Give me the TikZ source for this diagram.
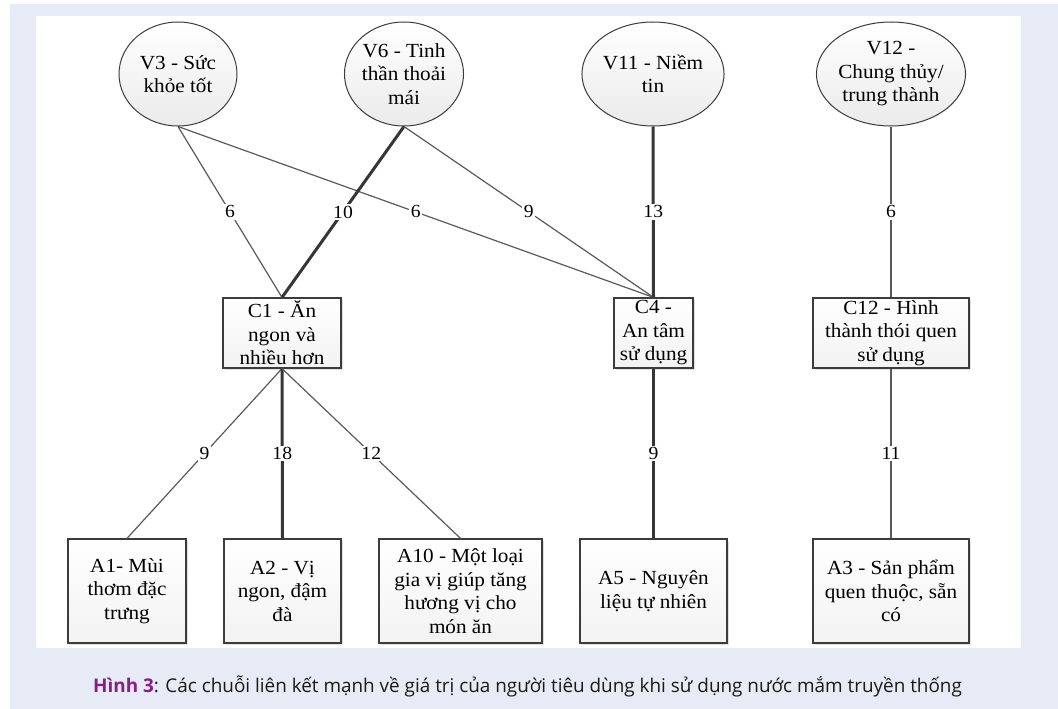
\documentclass[tikz,border=0pt]{standalone}
\usepackage{fontspec}
\setmainfont{Liberation Serif}[FakeStretch=1.06]
\newfontfamily\capfont{Open Sans}
\usetikzlibrary{shapes.geometric,shadows}
\definecolor{bgblue}{HTML}{E7EBF6}
\definecolor{bordc}{HTML}{3C3C3C}
\definecolor{thinc}{HTML}{5A5A5A}
\definecolor{thickc}{HTML}{363636}
\definecolor{cappurple}{HTML}{8A1C8C}
\definecolor{captext}{HTML}{1A1A1A}
\newcommand{\nodefont}{\fontsize{20}{23.5}\selectfont}
\newcommand{\lblfont}{\fontsize{18.5}{20}\selectfont}
\tikzset{
  vnode/.style={ellipse, draw=bordc, line width=1pt, top color=white, bottom color=gray!16,
    minimum width=118pt, minimum height=104pt, inner sep=0pt, align=center, font=\nodefont},
  boxnode/.style={rectangle, draw=bordc, line width=1.2pt, top color=white, bottom color=gray!10,
    drop shadow={shadow xshift=1.5pt, shadow yshift=-1.5pt, opacity=0.25},
    inner sep=0pt, align=center, font=\nodefont},
  thinedge/.style={draw=thinc, line width=1.2pt},
  thickedge/.style={draw=thickc, line width=3pt},
  lbl/.style={fill=white, inner sep=1.5pt, font=\lblfont, text=black}
}
\begin{document}
\begin{tikzpicture}[x=1pt, y=-1pt]
\useasboundingbox (0,0) rectangle (1058,709);
\fill[white] (0,0) rectangle (1058,709);
\fill[bgblue] (10,4) rectangle (1058,709);
\fill[white] (36,16) rectangle (1021,648);

% value nodes
\node[vnode] (V3) at (178,74) {V3 - Sức\\khỏe tốt};
\node[vnode] (V6) at (404,74) {V6 - Tinh\\thần thoải\\mái};
\node[vnode] (V11) at (653,74) {V11 - Niềm\\tin};
\node[vnode] (V12) at (891,74) {V12 -\\Chung thủy/\\trung thành};

% consequence nodes
\node[boxnode, minimum width=118pt, minimum height=70pt] (C1) at (282,333) {C1 - Ăn\\ngon và\\nhiều hơn};
\node[boxnode, minimum width=79pt, minimum height=70pt] (C4) at (653.5,333) {C4 -\\An tâm\\sử dụng};
\node[boxnode, minimum width=156pt, minimum height=70pt] (C12) at (891,333) {C12 - Hình\\thành thói quen\\sử dụng};

% attribute nodes
\node[boxnode, minimum width=118pt, minimum height=104pt] (A1) at (127,591) {A1- Mùi\\thơm đặc\\trưng};
\node[boxnode, minimum width=117pt, minimum height=104pt] (A2) at (282.5,591) {A2 - Vị\\ngon, đậm\\đà};
\node[boxnode, minimum width=163pt, minimum height=104pt] (A10) at (460.5,591) {A10 - Một loại\\gia vị giúp tăng\\hương vị cho\\món ăn};
\node[boxnode, minimum width=147pt, minimum height=104pt] (A5) at (653.5,591) {A5 - Nguyên\\liệu tự nhiên};
\node[boxnode, minimum width=156pt, minimum height=104pt] (A3) at (891,591) {A3 - Sản phẩm\\quen thuộc, sẵn\\có};

% edges V -> C
\draw[thinedge] (V3.south) -- (C4.north) node[lbl, pos=0.5] {6};
\draw[thinedge] (V3.south) -- (C1.north) node[lbl, pos=0.5] {6};
\draw[thickedge] (V6.south) -- (C1.north) node[lbl, pos=0.5] {10};
\draw[thinedge] (V6.south) -- (C4.north) node[lbl, pos=0.5] {9};
\draw[thickedge] (V11.south) -- (C4.north) node[lbl, pos=0.5] {13};
\draw[thinedge] (V12.south) -- (C12.north) node[lbl, pos=0.5] {6};

% edges C -> A
\draw[thinedge] (C1.south) -- (A1.north) node[lbl, pos=0.5] {9};
\draw[thickedge] (C1.south) -- (A2.north) node[lbl, pos=0.5] {18};
\draw[thinedge] (C1.south) -- (A10.north) node[lbl, pos=0.5] {12};
\draw[thickedge] (C4.south) -- (A5.north) node[lbl, pos=0.5] {9};
\draw[thinedge] (C12.south) -- (A3.north) node[lbl, pos=0.5] {11};

% caption
\node[font=\capfont\fontsize{18.9}{20}\selectfont, text=captext, inner sep=0pt, anchor=base] (cap) at (527.5,692)
  {\textcolor{cappurple}{\bfseries Hình 3}: Các chuỗi liên kết mạnh về giá trị của người tiêu dùng khi sử dụng nước mắm truyền thống};
\end{tikzpicture}
\end{document}
